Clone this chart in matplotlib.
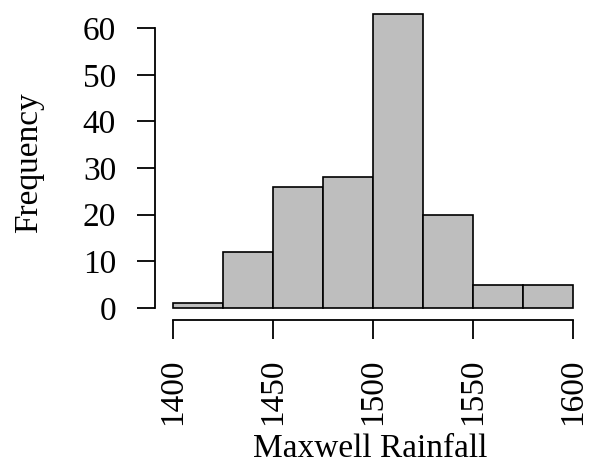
import matplotlib.pyplot as plt

bin_edges = [1400, 1425, 1450, 1475, 1500, 1525, 1550, 1575, 1600]
counts = [1, 12, 26, 28, 63, 20, 5, 5]
xticks = [1400, 1450, 1500, 1550, 1600]
yticks = [0, 10, 20, 30, 40, 50, 60]

plt.rcParams['font.family'] = ['Liberation Serif', 'DejaVu Serif']

fig = plt.figure(figsize=(5.9, 4.67), dpi=100)
ax = fig.add_axes([155 / 590, 147 / 467, (585 - 155) / 590, (320 - 5) / 467])

widths = [b - a for a, b in zip(bin_edges[:-1], bin_edges[1:])]
ax.bar(bin_edges[:-1], counts, width=widths, align='edge',
       color='#bebebe', edgecolor='black', linewidth=1.2)

ax.set_xlim(1391, 1606)
ax.set_ylim(-2.6, 65)

for s in ['top', 'right']:
    ax.spines[s].set_visible(False)
ax.spines['left'].set_bounds(0, 60)
ax.spines['bottom'].set_bounds(1400, 1600)
for s in ['left', 'bottom']:
    ax.spines[s].set_linewidth(1.3)

ax.set_xticks(xticks)
ax.set_xticklabels([str(t) for t in xticks], rotation=90)
ax.set_yticks(yticks)
ax.tick_params(axis='both', labelsize=24, width=1.3, length=13)
ax.tick_params(axis='x', pad=14, length=14)
ax.tick_params(axis='y', pad=15)

ax.set_xlabel('Maxwell Rainfall', fontsize=24, labelpad=6)
ax.set_ylabel('Frequency', fontsize=24, labelpad=28)

fig.savefig('out.png', dpi=100)
